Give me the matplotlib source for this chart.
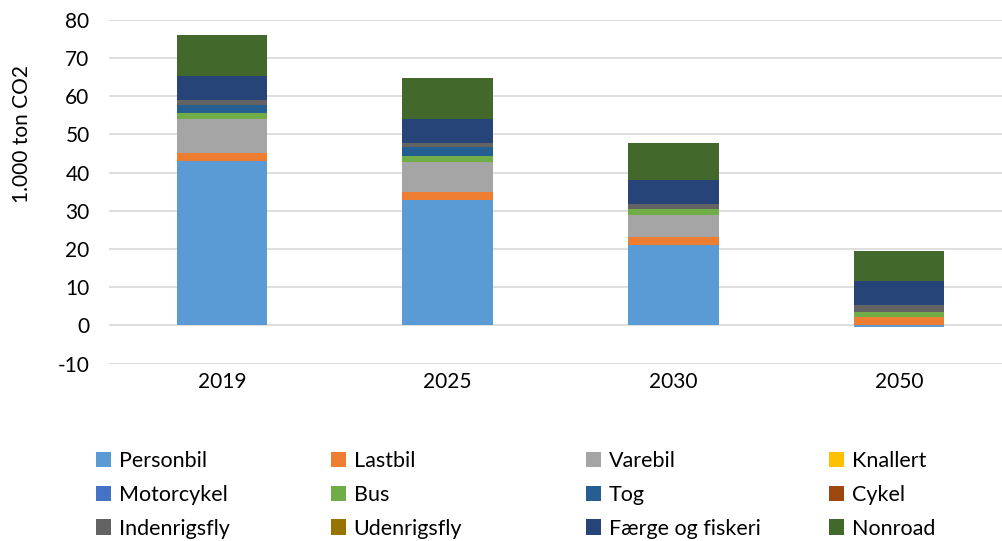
import matplotlib
matplotlib.use("Agg")
import matplotlib.pyplot as plt
import numpy as np
from matplotlib.patches import Patch

years = ["2019", "2025", "2030", "2050"]
series_names = ["Personbil", "Lastbil", "Varebil", "Knallert", "Motorcykel", "Bus",
                "Tog", "Cykel", "Indenrigsfly", "Udenrigsfly", "Færge og fiskeri", "Nonroad"]
colors = ["#5B9BD5", "#ED7D31", "#A5A5A5", "#FFC000", "#4472C4", "#70AD47",
          "#255E91", "#9E480E", "#636363", "#997300", "#264478", "#43682B"]

personbil = [43.0, 32.8, 21.0, -0.4]
lastbil = [2.2, 2.2, 2.1, 2.2]
varebil = [8.9, 7.9, 5.9, 0.0]
knallert = [0.0, 0.0, 0.0, 0.0]
motorcykel = [0.0, 0.0, 0.0, 0.0]
bus = [1.5, 1.4, 1.4, 1.4]
tog = [2.2, 2.3, 0.0, 0.0]
cykel = [0.0, 0.0, 0.0, 0.0]
indenrigsfly = [1.2, 1.2, 1.3, 1.6]
udenrigsfly = [0.0, 0.0, 0.0, 0.0]
faerge = [6.3, 6.2, 6.3, 6.4]
nonroad = [10.7, 10.7, 9.9, 8.0]

data = [personbil, lastbil, varebil, knallert, motorcykel, bus, tog, cykel,
        indenrigsfly, udenrigsfly, faerge, nonroad]

plt.rcParams['font.family'] = ['Lato', 'DejaVu Sans']
plt.rcParams['axes.unicode_minus'] = False

fig = plt.figure(figsize=(10.03, 5.41), dpi=100)
ax = fig.add_axes([109/1003, 1-363.5/541, (1003-109)/1003, (363.5-20)/541])

x = np.arange(len(years))
pos_bottom = np.zeros(len(years))
neg_bottom = np.zeros(len(years))
handles = []
for name, vals, c in zip(series_names, data, colors):
    v = np.array(vals, dtype=float)
    bottom = np.where(v >= 0, pos_bottom, neg_bottom)
    ax.bar(x, v, bottom=bottom, width=0.40, color=c, linewidth=0, zorder=3)
    pos_bottom = pos_bottom + np.where(v >= 0, v, 0)
    neg_bottom = neg_bottom + np.where(v < 0, v, 0)
    handles.append(Patch(facecolor=c, edgecolor='none'))

ax.set_xlim(-0.5, 3.46)
ax.set_ylim(-10, 80)
ax.set_yticks(np.arange(-10, 81, 10))
ax.set_xticks(x)
ax.set_xticklabels(years)
ax.yaxis.grid(True, color="#D9D9D9", linewidth=1.2, zorder=0)
for s in ax.spines.values():
    s.set_visible(False)
ax.tick_params(axis='both', length=0, labelsize=15, colors="#000000")
ax.tick_params(axis='x', pad=6)
ax.tick_params(axis='y', pad=14)
ax.set_ylabel("1.000 ton CO2", fontsize=15)
ax.yaxis.set_label_coords(-(109-32)/894, 1-(134-20)/343.5)

# legend: 4 columns, row-major order
col_x = [96, 331, 586, 829]
for ci in range(4):
    idx = [ci, ci + 4, ci + 8]
    fig.legend([handles[i] for i in idx], [series_names[i] for i in idx],
               loc='upper left', bbox_to_anchor=(col_x[ci]/1003, 1-451/541),
               frameon=False, fontsize=15.5, handlelength=0.7, handleheight=0.7,
               handletextpad=0.35, labelspacing=0.64, borderaxespad=0, borderpad=0)

fig.savefig("out.png", dpi=100)
